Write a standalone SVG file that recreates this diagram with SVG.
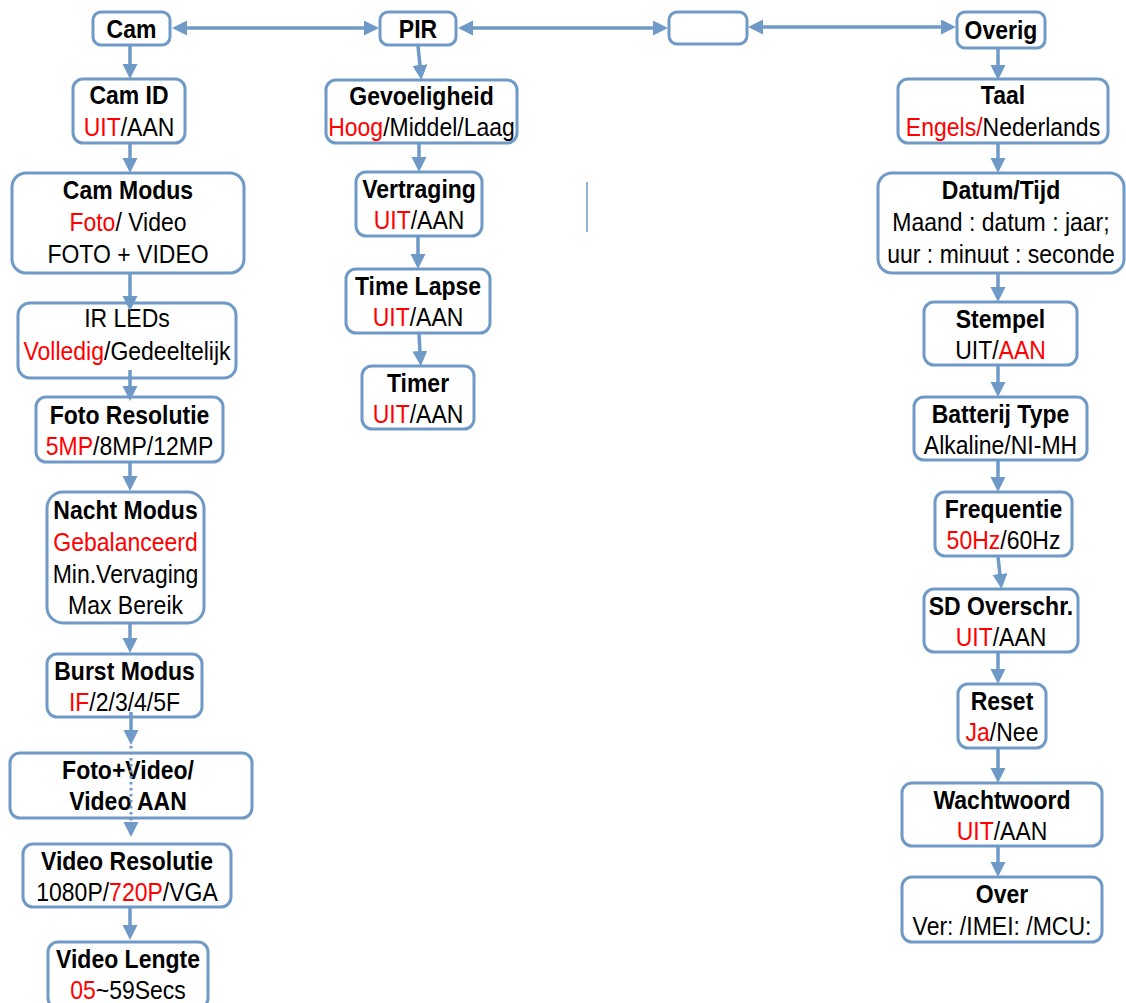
<svg xmlns="http://www.w3.org/2000/svg" width="1126" height="1003" viewBox="0 0 1126 1003">
<style>
.box{fill:#fff;stroke:#6F9AC7;stroke-width:3}
.t{font-family:"Liberation Sans",Arial,sans-serif;font-size:25px;text-anchor:middle;fill:#000}
.b{font-weight:bold}
.r{fill:#FF0000}
.c{stroke:#6F9AC7;stroke-width:3.5;fill:none}
.d{stroke:#6F9AC7;stroke-width:3;fill:none;stroke-dasharray:2.5 3.5}
</style>
<defs>
<marker id="ah" markerUnits="userSpaceOnUse" markerWidth="16" markerHeight="16" refX="1" refY="7.5" orient="auto-start-reverse">
<path d="M0,0 L15,7.5 L0,15 z" fill="#6F9AC7"/>
</marker>
</defs>
<rect width="1126" height="1003" fill="#fff"/>
<g id="cam"><rect class="box" x="93" y="12" width="77" height="33" rx="8"/><g transform="translate(131.5 0) scale(0.92 1)"><text class="t b" y="38">Cam</text></g></g>
<g id="pir"><rect class="box" x="380" y="12" width="76" height="33" rx="8"/><g transform="translate(418 0) scale(0.92 1)"><text class="t b" y="38">PIR</text></g></g>
<g id="blank"><rect class="box" x="669" y="12" width="78" height="32" rx="8"/></g>
<g id="overig"><rect class="box" x="957" y="12" width="88" height="36" rx="8"/><g transform="translate(1001 0) scale(0.92 1)"><text class="t b" y="39">Overig</text></g></g>

<g id="camid"><rect class="box" x="73" y="79" width="112" height="64" rx="10"/><g transform="translate(129 0) scale(0.92 1)"><text class="t b" y="104">Cam ID</text><text class="t" y="136"><tspan class="r">UIT</tspan>/AAN</text></g></g>
<g id="cammodus"><rect class="box" x="12" y="173" width="232" height="100" rx="14"/><g transform="translate(128 0) scale(0.92 1)"><text class="t b" y="199">Cam Modus</text><text class="t" y="231"><tspan class="r">Foto</tspan>/ Video</text><text class="t" y="263">FOTO + VIDEO</text></g></g>
<g id="irleds"><rect class="box" x="18" y="303" width="218" height="75" rx="12"/><g transform="translate(127 0) scale(0.92 1)"><text class="t" y="327">IR LEDs</text><text class="t" y="360"><tspan class="r">Volledig</tspan>/Gedeeltelijk</text></g></g>
<g id="fotoresolutie"><rect class="box" x="36" y="397" width="187" height="65" rx="10"/><g transform="translate(129.5 0) scale(0.92 1)"><text class="t b" y="424">Foto Resolutie</text><text class="t" y="455"><tspan class="r">5MP</tspan>/8MP/12MP</text></g></g>
<g id="nachtmodus"><rect class="box" x="47" y="492" width="157" height="131" rx="16"/><g transform="translate(125.5 0) scale(0.92 1)"><text class="t b" y="519">Nacht Modus</text><text class="t r" y="551">Gebalanceerd</text><text class="t" y="583">Min.Vervaging</text><text class="t" y="614">Max Bereik</text></g></g>
<g id="burstmodus"><rect class="box" x="47" y="654" width="155" height="63" rx="10"/><g transform="translate(124.5 0) scale(0.92 1)"><text class="t b" y="680">Burst Modus</text><text class="t" y="711"><tspan class="r">IF</tspan>/2/3/4/5F</text></g></g>
<g id="fotovideo"><rect class="box" x="10" y="753" width="242" height="65" rx="10"/><g transform="translate(128 0) scale(0.92 1)"><text class="t b" y="779">Foto+Video/</text><text class="t b" y="810">Video AAN</text></g></g>
<g id="videoresolutie"><rect class="box" x="23" y="844" width="208" height="63" rx="10"/><g transform="translate(127 0) scale(0.92 1)"><text class="t b" y="870">Video Resolutie</text><text class="t" y="901">1080P/<tspan class="r">720P</tspan>/VGA</text></g></g>
<g id="videolengte"><rect class="box" x="48" y="942" width="160" height="66" rx="10"/><g transform="translate(128 0) scale(0.92 1)"><text class="t b" y="968">Video Lengte</text><text class="t" y="999"><tspan class="r">05</tspan>~59Secs</text></g></g>

<g id="gevoeligheid"><rect class="box" x="326" y="80" width="191" height="63" rx="10"/><g transform="translate(421.5 0) scale(0.92 1)"><text class="t b" y="105">Gevoeligheid</text><text class="t" y="136"><tspan class="r">Hoog</tspan>/Middel/Laag</text></g></g>
<g id="vertraging"><rect class="box" x="356" y="172" width="126" height="64" rx="10"/><g transform="translate(419 0) scale(0.92 1)"><text class="t b" y="198">Vertraging</text><text class="t" y="229"><tspan class="r">UIT</tspan>/AAN</text></g></g>
<g id="timelapse"><rect class="box" x="346" y="269" width="144" height="64" rx="10"/><g transform="translate(418 0) scale(0.92 1)"><text class="t b" y="295">Time Lapse</text><text class="t" y="326"><tspan class="r">UIT</tspan>/AAN</text></g></g>
<g id="timer"><rect class="box" x="362" y="366" width="112" height="63" rx="10"/><g transform="translate(418 0) scale(0.92 1)"><text class="t b" y="392">Timer</text><text class="t" y="423"><tspan class="r">UIT</tspan>/AAN</text></g></g>

<g id="taal"><rect class="box" x="898" y="79" width="210" height="64" rx="10"/><g transform="translate(1003 0) scale(0.92 1)"><text class="t b" y="104">Taal</text><text class="t" y="136"><tspan class="r">Engels/</tspan>Nederlands</text></g></g>
<g id="datumtijd"><rect class="box" x="878" y="173" width="246" height="100" rx="14"/><g transform="translate(1001 0) scale(0.92 1)"><text class="t b" y="199">Datum/Tijd</text><text class="t" y="231">Maand : datum : jaar;</text><text class="t" y="263">uur : minuut : seconde</text></g></g>
<g id="stempel"><rect class="box" x="924" y="302" width="153" height="63" rx="10"/><g transform="translate(1000.5 0) scale(0.92 1)"><text class="t b" y="328">Stempel</text><text class="t" y="359">UIT/<tspan class="r">AAN</tspan></text></g></g>
<g id="batterijtype"><rect class="box" x="914" y="397" width="173" height="63" rx="10"/><g transform="translate(1000.5 0) scale(0.92 1)"><text class="t b" y="423">Batterij Type</text><text class="t" y="454">Alkaline/NI-MH</text></g></g>
<g id="frequentie"><rect class="box" x="935" y="492" width="137" height="64" rx="10"/><g transform="translate(1003.5 0) scale(0.92 1)"><text class="t b" y="518">Frequentie</text><text class="t" y="549"><tspan class="r">50Hz</tspan>/60Hz</text></g></g>
<g id="sdoverschr"><rect class="box" x="924" y="589" width="154" height="63" rx="10"/><g transform="translate(1001 0) scale(0.92 1)"><text class="t b" y="615">SD Overschr.</text><text class="t" y="646"><tspan class="r">UIT</tspan>/AAN</text></g></g>
<g id="reset"><rect class="box" x="958" y="684" width="88" height="64" rx="10"/><g transform="translate(1002 0) scale(0.92 1)"><text class="t b" y="710">Reset</text><text class="t" y="741"><tspan class="r">Ja</tspan>/Nee</text></g></g>
<g id="wachtwoord"><rect class="box" x="902" y="783" width="200" height="63" rx="10"/><g transform="translate(1002 0) scale(0.92 1)"><text class="t b" y="809">Wachtwoord</text><text class="t" y="840"><tspan class="r">UIT</tspan>/AAN</text></g></g>
<g id="over"><rect class="box" x="902" y="877" width="200" height="65" rx="10"/><g transform="translate(1002 0) scale(0.92 1)"><text class="t b" y="903">Over</text><text class="t" y="935">Ver: /IMEI: /MCU:</text></g></g>

<g id="connectors">
<line class="c" x1="186" y1="28" x2="365" y2="28" marker-start="url(#ah)" marker-end="url(#ah)"/>
<line class="c" x1="472" y1="28" x2="654" y2="28" marker-start="url(#ah)" marker-end="url(#ah)"/>
<line class="c" x1="762" y1="27" x2="942" y2="27" marker-start="url(#ah)" marker-end="url(#ah)"/>
<line class="c" x1="130" y1="46" x2="130" y2="65" marker-end="url(#ah)"/>
<line class="c" x1="130" y1="144" x2="130" y2="159" marker-end="url(#ah)"/>
<line class="c" x1="130" y1="274" x2="130" y2="297" marker-end="url(#ah)"/>
<line class="c" x1="130" y1="370" x2="130" y2="387" marker-end="url(#ah)"/>
<line class="c" x1="130" y1="463" x2="130" y2="477" marker-end="url(#ah)"/>
<line class="c" x1="130" y1="624" x2="130" y2="639" marker-end="url(#ah)"/>
<line class="c" x1="131" y1="712" x2="131" y2="731" marker-end="url(#ah)"/>
<line class="d" x1="131" y1="746" x2="131" y2="823" marker-end="url(#ah)"/>
<line class="c" x1="130" y1="908" x2="130" y2="926" marker-end="url(#ah)"/>
<line class="c" x1="418" y1="46" x2="420" y2="66" marker-end="url(#ah)"/>
<line class="c" x1="419" y1="144" x2="419" y2="158" marker-end="url(#ah)"/>
<line class="c" x1="418" y1="237" x2="418" y2="255" marker-end="url(#ah)"/>
<line class="c" x1="419" y1="334" x2="420" y2="352" marker-end="url(#ah)"/>
<line class="c" x1="998" y1="49" x2="998" y2="66" marker-end="url(#ah)"/>
<line class="c" x1="998" y1="144" x2="998" y2="159" marker-end="url(#ah)"/>
<line class="c" x1="998" y1="274" x2="998" y2="288" marker-end="url(#ah)"/>
<line class="c" x1="998" y1="366" x2="998" y2="383" marker-end="url(#ah)"/>
<line class="c" x1="998" y1="461" x2="998" y2="478" marker-end="url(#ah)"/>
<line class="c" x1="998" y1="557" x2="1000" y2="575" marker-end="url(#ah)"/>
<line class="c" x1="998" y1="653" x2="998" y2="670" marker-end="url(#ah)"/>
<line class="c" x1="998" y1="749" x2="998" y2="769" marker-end="url(#ah)"/>
<line class="c" x1="998" y1="847" x2="998" y2="863" marker-end="url(#ah)"/>
<line x1="587" y1="182" x2="587" y2="232" stroke="#6F9AC7" stroke-width="1.5"/>
</g>
</svg>
